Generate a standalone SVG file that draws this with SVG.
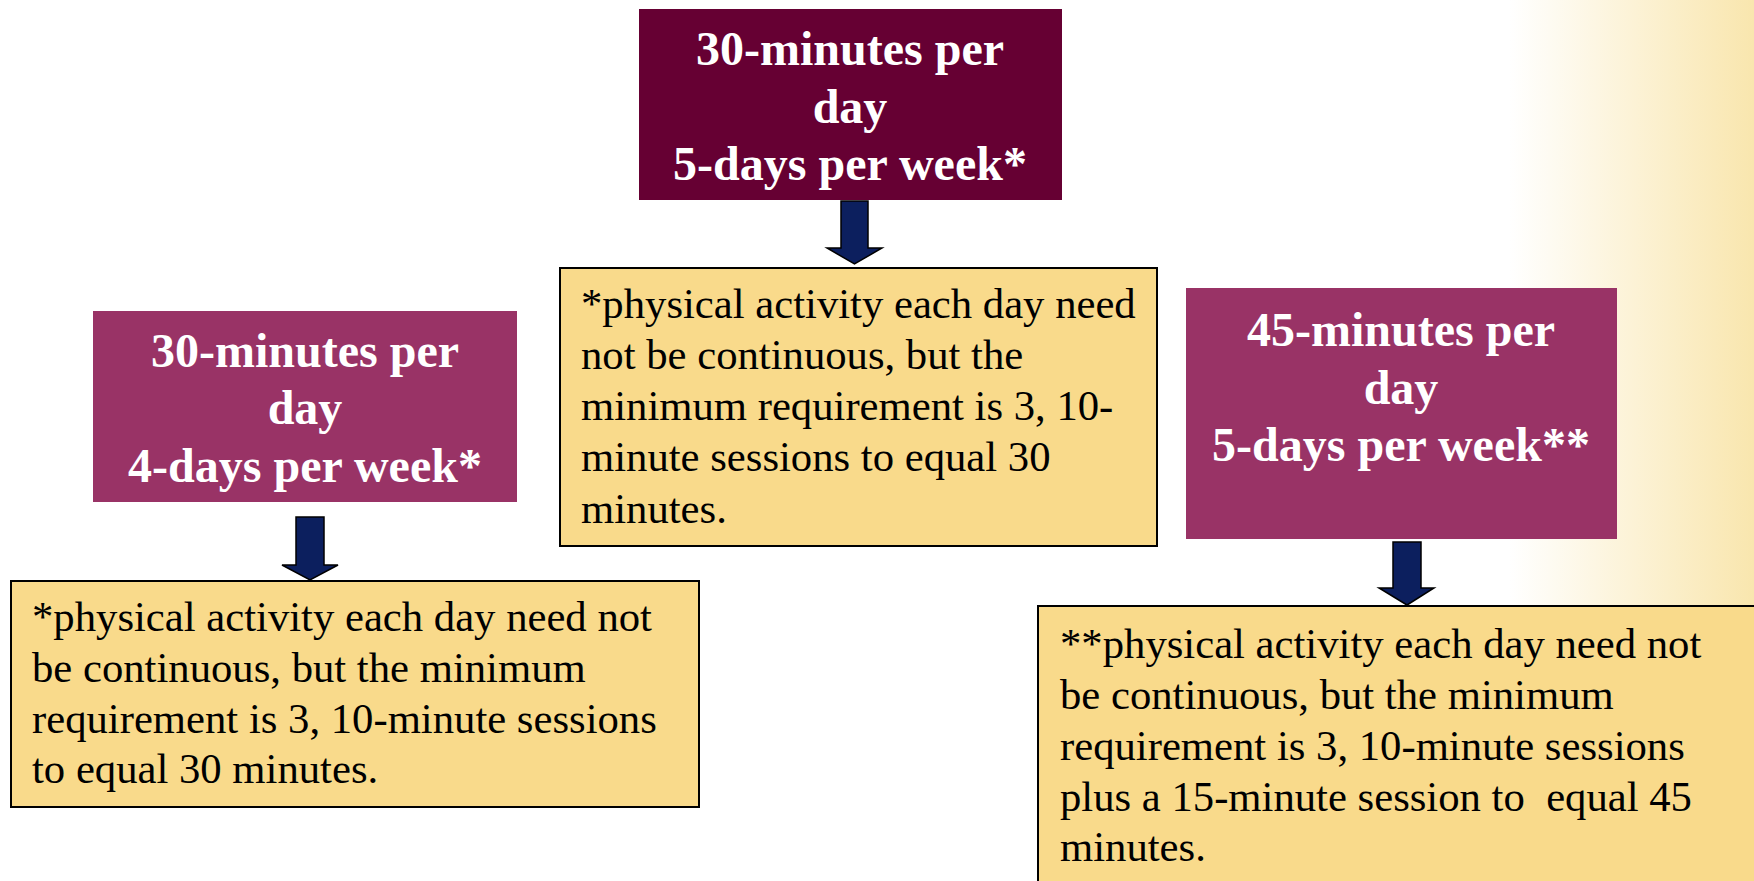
<svg xmlns="http://www.w3.org/2000/svg" width="1754" height="881" viewBox="0 0 1754 881">
<defs>
<linearGradient id="bg" x1="1510" y1="0" x2="1754" y2="0" gradientUnits="userSpaceOnUse">
<stop offset="0" stop-color="#FFFFFF"/>
<stop offset="1" stop-color="#F9E6AE"/>
</linearGradient>
<style>
.head{font-family:"Liberation Serif","Times New Roman",serif;font-weight:bold;font-size:48px;fill:#FFFFFF;text-anchor:middle}
.note{font-family:"Liberation Serif","Times New Roman",serif;font-size:42.7px;fill:#000000}
.dark{fill:#660033}
.pink{fill:#993366}
.yel{fill:#F9DA8B;stroke:#000000;stroke-width:2}
.arrow{fill:#0C1F5E;stroke:#000000;stroke-width:1.5;stroke-linejoin:miter}
</style>
</defs>
<rect x="0" y="0" width="1754" height="881" fill="url(#bg)"/>

<g id="connectors">
<path class="arrow" d="M841,201 H868 V248 H882 L854.5,264 L827,248 H841 Z"/>
<path class="arrow" d="M296,517 H324 V565 H338 L310,580 L282,565 H296 Z"/>
<path class="arrow" d="M1393,542 H1421 V588 H1434 L1407,605 L1379,588 H1393 Z"/>
</g>

<g id="top-box">
<rect class="dark" x="639" y="9" width="423" height="191"/>
<text class="head" x="850" y="65">30-minutes per</text>
<text class="head" x="850" y="123">day</text>
<text class="head" x="850" y="180">5-days per week*</text>
</g>

<g id="top-note">
<rect class="yel" x="560" y="268" width="597" height="278"/>
<text class="note" x="581" y="318">*physical activity each day need</text>
<text class="note" x="581" y="369">not be continuous, but the</text>
<text class="note" x="581" y="420">minimum requirement is 3, 10-</text>
<text class="note" x="581" y="471">minute sessions to equal 30</text>
<text class="note" x="581" y="523">minutes.</text>
</g>

<g id="left-box">
<rect class="pink" x="93" y="311" width="424" height="191"/>
<text class="head" x="305" y="367">30-minutes per</text>
<text class="head" x="305" y="424">day</text>
<text class="head" x="305" y="482">4-days per week*</text>
</g>

<g id="left-note">
<rect class="yel" x="11" y="581" width="688" height="226"/>
<text class="note" x="32" y="631">*physical activity each day need not</text>
<text class="note" x="32" y="682">be continuous, but the minimum</text>
<text class="note" x="32" y="733">requirement is 3, 10-minute sessions</text>
<text class="note" x="32" y="783">to equal 30 minutes.</text>
</g>

<g id="right-box">
<rect class="pink" x="1186" y="288" width="431" height="251"/>
<text class="head" x="1401" y="346">45-minutes per</text>
<text class="head" x="1401" y="404">day</text>
<text class="head" x="1401" y="461">5-days per week**</text>
</g>

<g id="right-note">
<rect class="yel" x="1038" y="606" width="730" height="290"/>
<text class="note" x="1060" y="658">**physical activity each day need not</text>
<text class="note" x="1060" y="709">be continuous, but the minimum</text>
<text class="note" x="1060" y="760">requirement is 3, 10-minute sessions</text>
<text class="note" x="1060" y="811" xml:space="preserve">plus a 15-minute session to  equal 45</text>
<text class="note" x="1060" y="861">minutes.</text>
</g>
</svg>
